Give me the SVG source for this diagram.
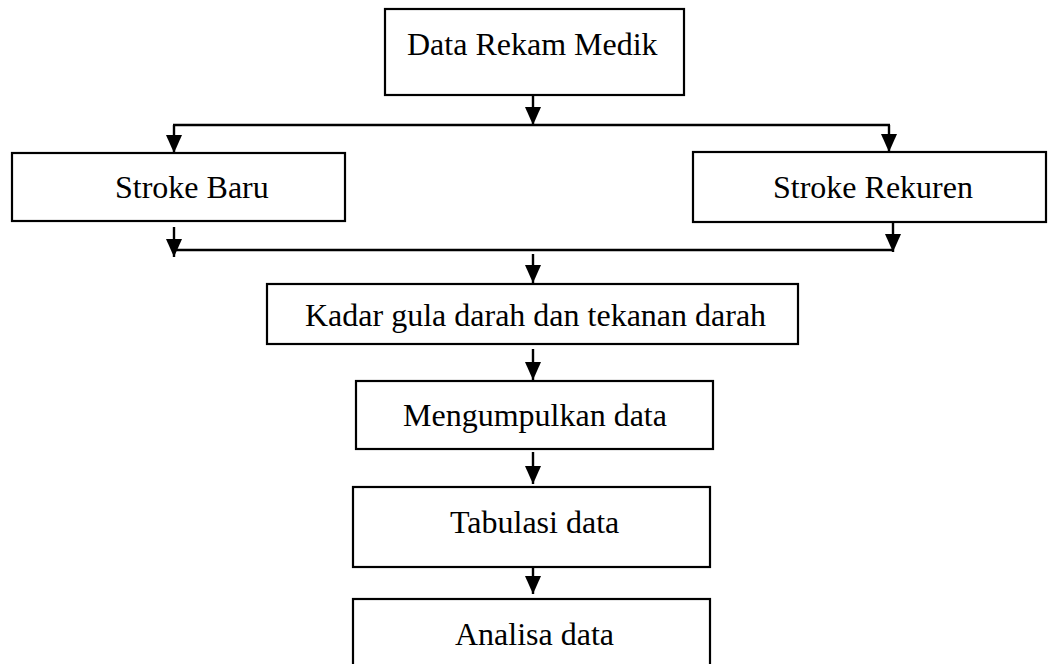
<svg xmlns="http://www.w3.org/2000/svg" width="1048" height="664" viewBox="0 0 1048 664">
<defs>
<marker id="ah" markerUnits="userSpaceOnUse" markerWidth="20" markerHeight="18" refX="18" refY="8" orient="auto">
<path d="M0,0 L18,8 L0,16 z" fill="#000"/>
</marker>
<style>
.box{fill:#fff;stroke:#000;stroke-width:2.2}
.lbl{font-family:"Liberation Serif","Times New Roman",serif;font-size:32px;fill:#000}
.c{fill:none;stroke:#000;stroke-width:2.4}
.a{fill:none;stroke:#000;stroke-width:2.4;marker-end:url(#ah)}
</style>
</defs>
<rect width="1048" height="664" fill="#fff"/>
<g id="connectors">
<line class="a" x1="533" y1="95" x2="533" y2="125"/>
<line class="c" x1="173" y1="125" x2="890" y2="125"/>
<line class="a" x1="174" y1="125" x2="174" y2="153"/>
<line class="a" x1="889" y1="125" x2="889" y2="152"/>
<line class="a" x1="174" y1="227" x2="174" y2="257"/>
<line class="a" x1="893" y1="222" x2="893" y2="252"/>
<line class="c" x1="174" y1="250" x2="894" y2="250"/>
<line class="a" x1="533" y1="254" x2="533" y2="283"/>
<line class="a" x1="533" y1="349" x2="533" y2="380"/>
<line class="a" x1="533" y1="452" x2="533" y2="484"/>
<line class="a" x1="533" y1="565" x2="533" y2="594"/>
</g>
<g id="n1">
<rect class="box" x="385" y="9" width="299" height="86"/>
<text class="lbl" x="407" y="55">Data Rekam Medik</text>
</g>
<g id="n2">
<rect class="box" x="12" y="153" width="333" height="68"/>
<text class="lbl" x="115" y="198">Stroke Baru</text>
</g>
<g id="n3">
<rect class="box" x="693" y="152" width="353" height="70"/>
<text class="lbl" x="773" y="198">Stroke Rekuren</text>
</g>
<g id="n4">
<rect class="box" x="267" y="284" width="531" height="60"/>
<text class="lbl" x="305" y="326">Kadar gula darah dan tekanan darah</text>
</g>
<g id="n5">
<rect class="box" x="356" y="381" width="357" height="68"/>
<text class="lbl" x="403" y="426">Mengumpulkan data</text>
</g>
<g id="n6">
<rect class="box" x="353" y="487" width="357" height="80"/>
<text class="lbl" x="450" y="533">Tabulasi data</text>
</g>
<g id="n7">
<rect class="box" x="353" y="599" width="357" height="80"/>
<text class="lbl" x="455" y="645">Analisa data</text>
</g>
</svg>
